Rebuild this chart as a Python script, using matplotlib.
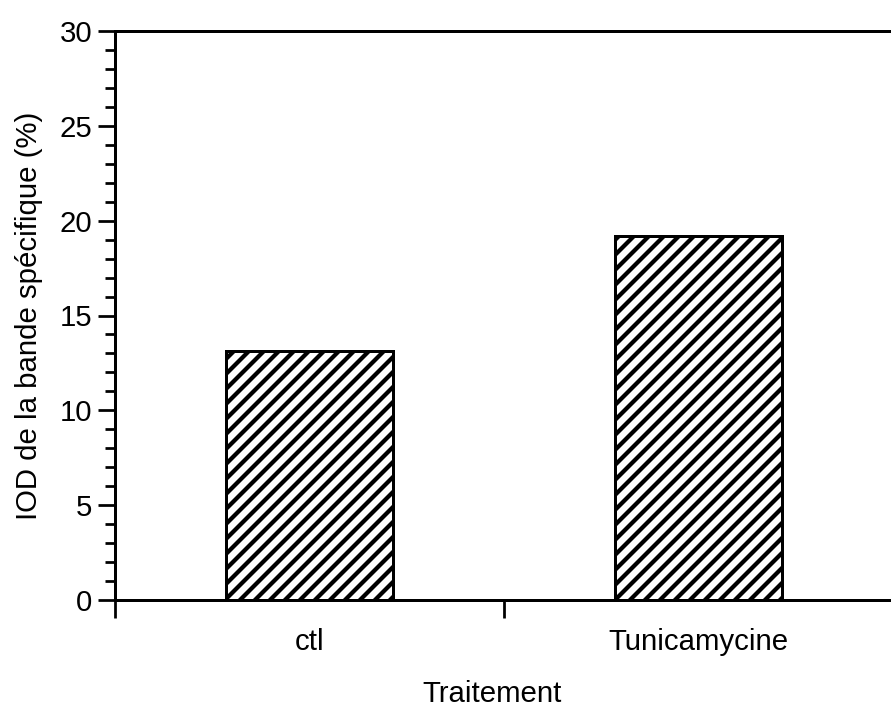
import matplotlib
matplotlib.use("Agg")
import matplotlib.pyplot as plt
from matplotlib.ticker import MultipleLocator, FixedLocator

categories = ["ctl", "Tunicamycine"]
values = [13.15, 19.2]
yticks = [0, 5, 10, 15, 20, 25, 30]

plt.rcParams['font.family'] = ['Liberation Sans', 'DejaVu Sans']
plt.rcParams['hatch.linewidth'] = 3.4
plt.rcParams['hatch.color'] = 'black'

DPI = 90
fig = plt.figure(figsize=(891 / DPI, 708 / DPI), dpi=DPI)
ax = fig.add_axes([115 / 891, 1 - 600 / 708, 778 / 891, (600 - 31) / 708])

x = list(range(len(categories)))
ax.bar(x, values, width=0.43, facecolor='white', edgecolor='black',
       linewidth=2.4, hatch='//', zorder=2)

ax.set_xlim(-0.5, 1.5)
ax.set_ylim(0, 30)

FS = 23.5
ax.yaxis.set_major_locator(FixedLocator(yticks))
ax.yaxis.set_minor_locator(MultipleLocator(1))
ax.xaxis.set_major_locator(FixedLocator([-0.5, 0.5, 1.5]))
ax.xaxis.set_minor_locator(FixedLocator(x))
ax.set_xticklabels(["", "", ""])
ax.set_xticklabels(categories, minor=True)

ax.tick_params(axis='y', which='major', direction='out', length=14, width=2.2,
               labelsize=FS, pad=4)
ax.tick_params(axis='y', which='minor', direction='out', length=8, width=2.2)
ax.tick_params(axis='x', which='major', direction='out', length=14, width=2.2)
ax.tick_params(axis='x', which='minor', length=0, labelsize=FS, pad=22)

for s in ax.spines.values():
    s.set_linewidth(2.4)

ax.set_ylabel("IOD de la bande spécifique (%)", fontsize=FS, labelpad=13)
ax.set_xlabel("Traitement", fontsize=FS, labelpad=20, x=(492 - 115) / 778)

fig.savefig("out.png", dpi=DPI)
